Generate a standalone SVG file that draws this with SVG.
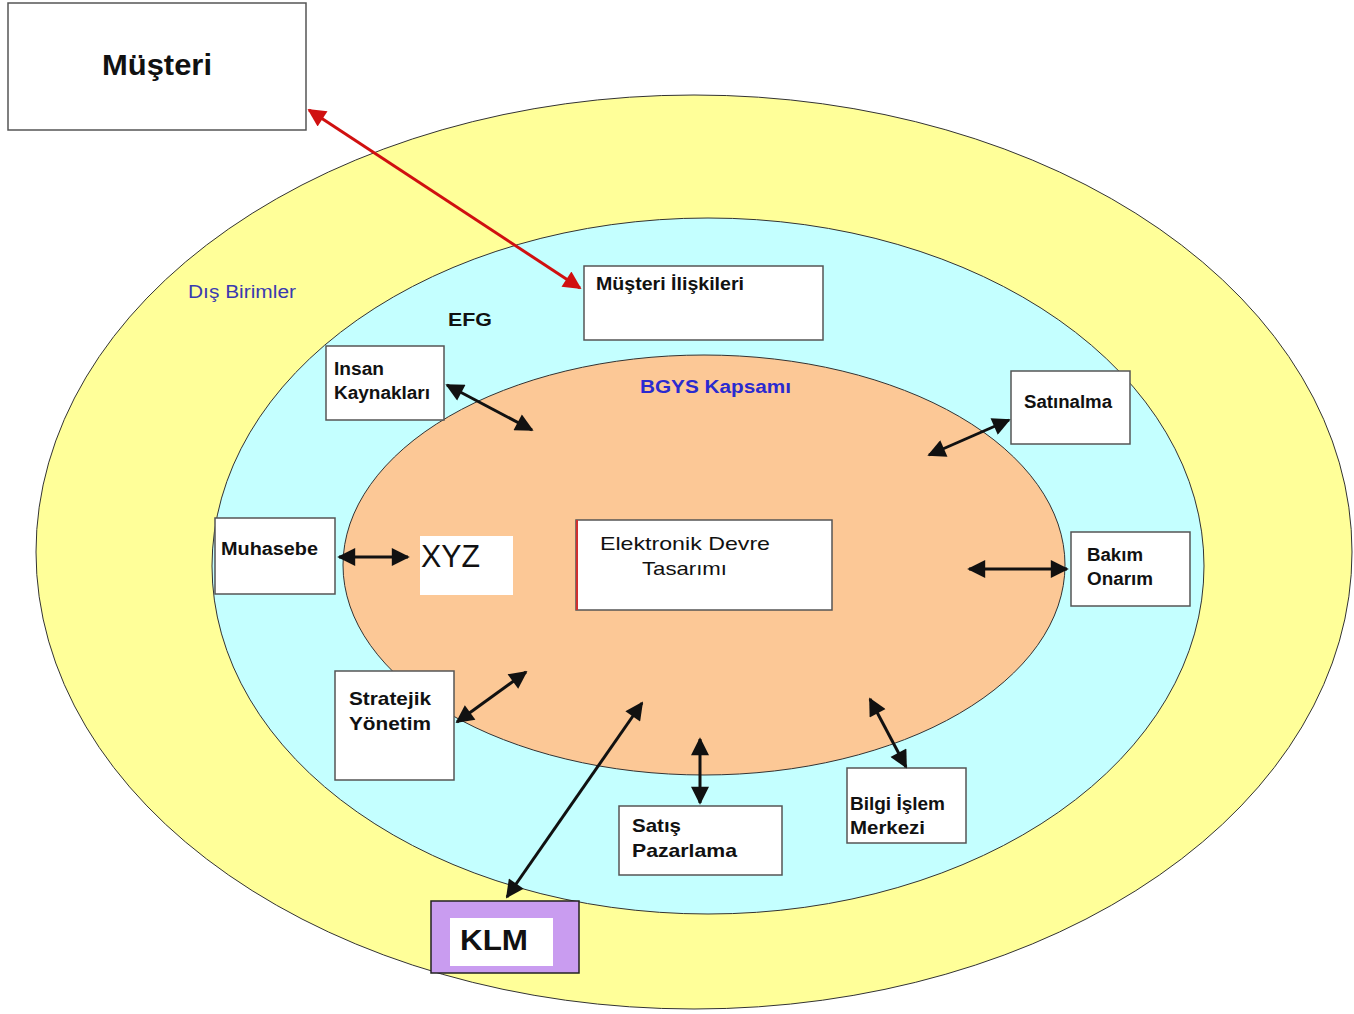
<svg xmlns="http://www.w3.org/2000/svg" width="1354" height="1014" viewBox="0 0 1354 1014">
<style>
.box{fill:#fff;stroke:#555;stroke-width:1.5}
.t{font-family:"Liberation Sans",Arial,sans-serif;font-weight:bold;fill:#111}
.con{stroke:#111;stroke-width:3;fill:none}
</style>
<defs>
<marker id="ah" viewBox="0 0 10 10" refX="9" refY="5" markerWidth="7" markerHeight="6" markerUnits="strokeWidth" orient="auto-start-reverse">
<path d="M0,0 L10,5 L0,10 z" fill="#111"/>
</marker>
<marker id="ahr" viewBox="0 0 10 10" refX="9" refY="5" markerWidth="7" markerHeight="6" markerUnits="strokeWidth" orient="auto-start-reverse">
<path d="M0,0 L10,5 L0,10 z" fill="#d01010"/>
</marker>
</defs>
<rect width="1354" height="1014" fill="#fff"/>
<g id="rings">
<ellipse cx="694" cy="552" rx="658" ry="457" fill="#ffff99" stroke="#333" stroke-width="1"/>
<ellipse cx="708" cy="566" rx="496" ry="348" fill="#c4ffff" stroke="#333" stroke-width="1"/>
<ellipse cx="704" cy="565" rx="361" ry="210" fill="#fcc896" stroke="#333" stroke-width="1"/>
</g>
<g id="labels">
<text x="188" y="298" style="font-family:'Liberation Sans',Arial,sans-serif;font-size:18px;fill:#3a3ab0" textLength="108" lengthAdjust="spacingAndGlyphs">Dış Birimler</text>
<text class="t" x="448" y="326" style="font-size:18px" textLength="44" lengthAdjust="spacingAndGlyphs">EFG</text>
<text x="640" y="393" style="font-family:'Liberation Sans',Arial,sans-serif;font-weight:bold;font-size:18px;fill:#2a2ad0" textLength="151" lengthAdjust="spacingAndGlyphs">BGYS Kapsamı</text>
</g>
<g id="musteri"><rect class="box" x="8" y="3" width="298" height="127"/><text class="t" x="102" y="75" style="font-size:29px" textLength="110" lengthAdjust="spacingAndGlyphs">Müşteri</text></g>
<g id="musteri-iliskileri"><rect class="box" x="584" y="266" width="239" height="74"/><text class="t" x="596" y="290" style="font-size:18px" textLength="148" lengthAdjust="spacingAndGlyphs">Müşteri İlişkileri</text></g>
<g id="insan-kaynaklari"><rect class="box" x="326" y="346" width="118" height="74"/><text class="t" x="334" y="375" style="font-size:18px" textLength="50" lengthAdjust="spacingAndGlyphs">Insan</text><text class="t" x="334" y="399" style="font-size:18px" textLength="96" lengthAdjust="spacingAndGlyphs">Kaynakları</text></g>
<g id="satinalma"><rect class="box" x="1011" y="371" width="119" height="73"/><text class="t" x="1024" y="408" style="font-size:18px" textLength="88" lengthAdjust="spacingAndGlyphs">Satınalma</text></g>
<g id="muhasebe"><rect class="box" x="215" y="518" width="120" height="76"/><text class="t" x="221" y="555" style="font-size:18px" textLength="97" lengthAdjust="spacingAndGlyphs">Muhasebe</text></g>
<g id="xyz"><rect x="420" y="536" width="93" height="59" fill="#fff"/><text x="421" y="567" style="font-family:'Liberation Sans',Arial,sans-serif;font-size:31px;fill:#111" textLength="59" lengthAdjust="spacingAndGlyphs">XYZ</text></g>
<g id="elektronik"><rect class="box" x="576" y="520" width="256" height="90" stroke="#8b3a2a"/><line x1="577" y1="520" x2="577" y2="610" stroke="#d03030" stroke-width="2"/><text x="600" y="550" style="font-family:'Liberation Sans',Arial,sans-serif;font-size:19px;fill:#111" textLength="170" lengthAdjust="spacingAndGlyphs">Elektronik  Devre</text><text x="642" y="575" style="font-family:'Liberation Sans',Arial,sans-serif;font-size:19px;fill:#111" textLength="85" lengthAdjust="spacingAndGlyphs">Tasarımı</text></g>
<g id="bakim-onarim"><rect class="box" x="1071" y="532" width="119" height="74"/><text class="t" x="1087" y="561" style="font-size:18px" textLength="56" lengthAdjust="spacingAndGlyphs">Bakım</text><text class="t" x="1087" y="585" style="font-size:18px" textLength="66" lengthAdjust="spacingAndGlyphs">Onarım</text></g>
<g id="stratejik"><rect class="box" x="335" y="671" width="119" height="109"/><text class="t" x="349" y="705" style="font-size:19px" textLength="82" lengthAdjust="spacingAndGlyphs">Stratejik</text><text class="t" x="349" y="730" style="font-size:19px" textLength="82" lengthAdjust="spacingAndGlyphs">Yönetim</text></g>
<g id="satis"><rect class="box" x="619" y="806" width="163" height="69"/><text class="t" x="632" y="832" style="font-size:19px" textLength="49" lengthAdjust="spacingAndGlyphs">Satış</text><text class="t" x="632" y="857" style="font-size:19px" textLength="105" lengthAdjust="spacingAndGlyphs">Pazarlama</text></g>
<g id="bilgi-islem"><rect class="box" x="847" y="768" width="119" height="75"/><text class="t" x="850" y="810" style="font-size:19px" textLength="95" lengthAdjust="spacingAndGlyphs">Bilgi İşlem</text><text class="t" x="850" y="834" style="font-size:19px" textLength="75" lengthAdjust="spacingAndGlyphs">Merkezi</text></g>
<g id="klm"><rect x="431" y="901" width="148" height="72" fill="#c99cf0" stroke="#222" stroke-width="1.5"/><rect x="450" y="918" width="103" height="48" fill="#fff"/><text class="t" x="460" y="950" style="font-size:30px" textLength="68" lengthAdjust="spacingAndGlyphs">KLM</text></g>
<g id="connectors">
<line x1="309" y1="110" x2="580" y2="288" stroke="#d01010" stroke-width="3" marker-start="url(#ahr)" marker-end="url(#ahr)"/>
<line class="con" x1="447" y1="385" x2="532" y2="430" marker-start="url(#ah)" marker-end="url(#ah)"/>
<line class="con" x1="1009" y1="420" x2="929" y2="455" marker-start="url(#ah)" marker-end="url(#ah)"/>
<line class="con" x1="339" y1="557" x2="408" y2="557" marker-start="url(#ah)" marker-end="url(#ah)"/>
<line class="con" x1="969" y1="569" x2="1067" y2="569" marker-start="url(#ah)" marker-end="url(#ah)"/>
<line class="con" x1="457" y1="722" x2="526" y2="672" marker-start="url(#ah)" marker-end="url(#ah)"/>
<line class="con" x1="507" y1="897" x2="642" y2="703" marker-start="url(#ah)" marker-end="url(#ah)"/>
<line class="con" x1="700" y1="739" x2="700" y2="803" marker-start="url(#ah)" marker-end="url(#ah)"/>
<line class="con" x1="870" y1="699" x2="906" y2="767" marker-start="url(#ah)" marker-end="url(#ah)"/>
</g>
</svg>
